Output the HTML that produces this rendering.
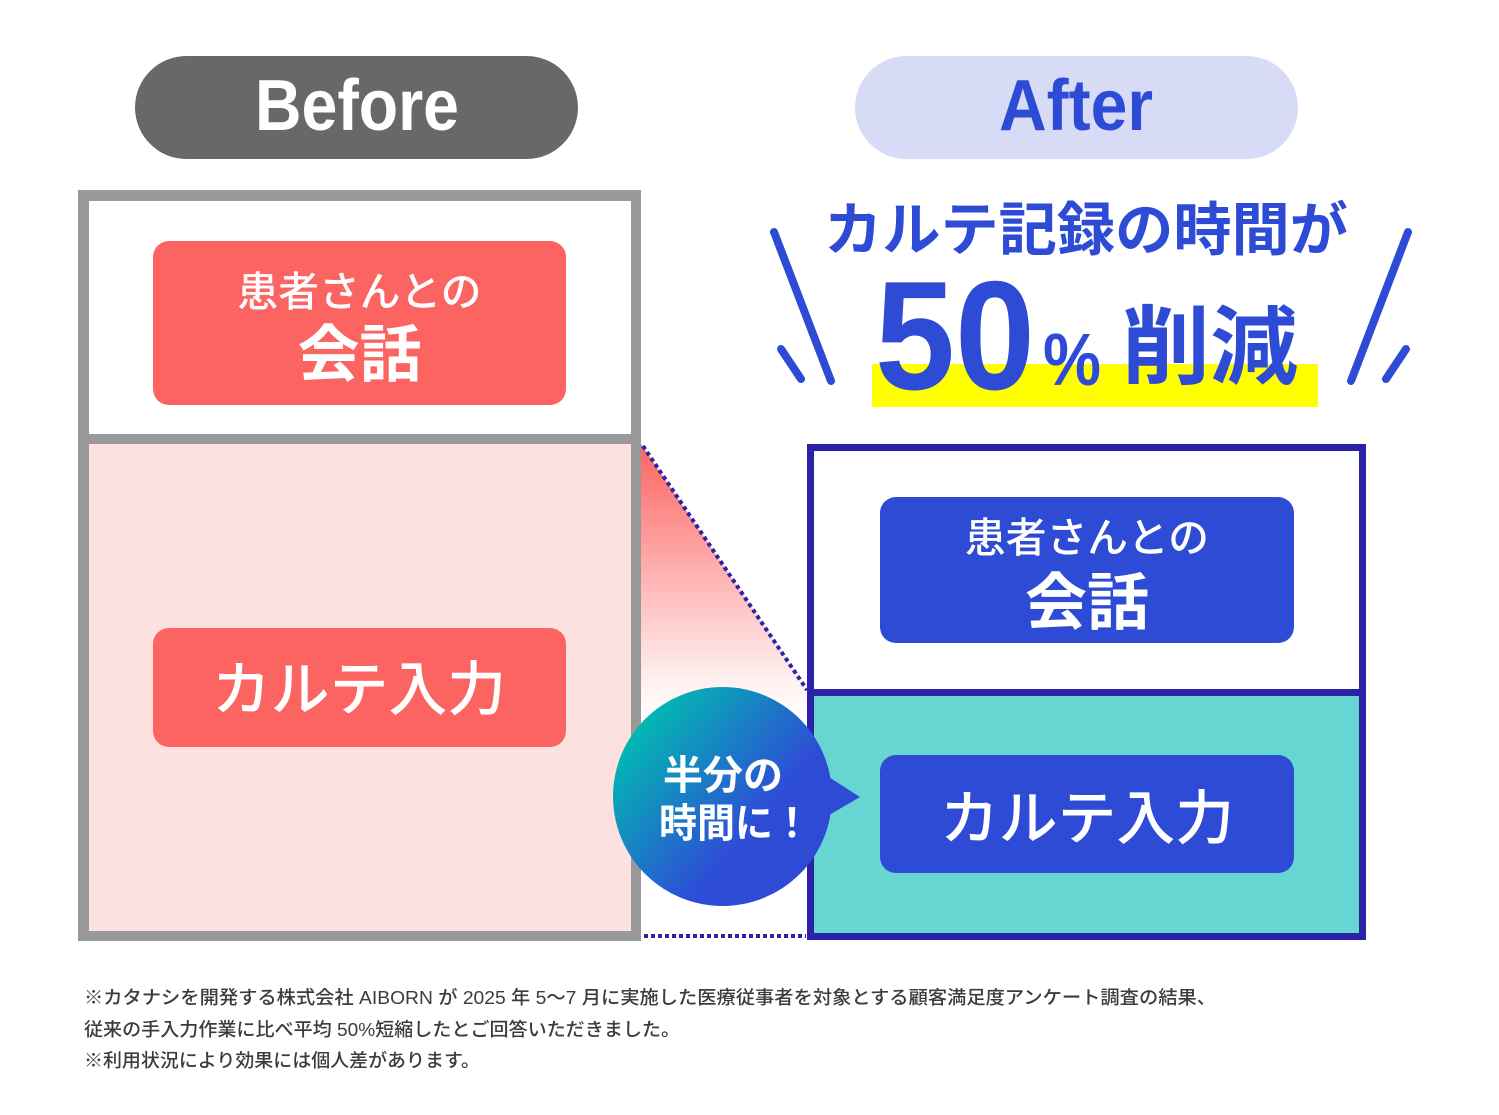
<!DOCTYPE html>
<html><head><meta charset="utf-8"><style>
html,body{margin:0;padding:0;background:#fff;}
svg{display:block;}
.jp{font-family:"Liberation Sans","Noto Sans CJK JP",sans-serif;}
</style></head><body>
<svg width="1499" height="1115" viewBox="0 0 1499 1115" xmlns="http://www.w3.org/2000/svg">
<defs>
<linearGradient id="redg" x1="0" y1="0" x2="0" y2="1">
<stop offset="0" stop-color="#fc6461" stop-opacity="1"/>
<stop offset="0.85" stop-color="#fc6461" stop-opacity="0.1"/>
<stop offset="1" stop-color="#fc6461" stop-opacity="0"/>
</linearGradient>
<linearGradient id="bub" x1="0.05" y1="0.2" x2="0.62" y2="0.68">
<stop offset="0" stop-color="#00bdb0"/>
<stop offset="1" stop-color="#2e4bd6"/>
</linearGradient>
</defs>

<!-- Badges -->
<rect x="135" y="56" width="443" height="103" rx="51.5" fill="#686868"/>
<text x="357" y="130" text-anchor="middle" font-family="Liberation Sans, sans-serif" font-size="72" font-weight="700" fill="#fff" textLength="204" lengthAdjust="spacingAndGlyphs">Before</text>
<rect x="855" y="56" width="443" height="103" rx="51.5" fill="#d7dbf6"/>
<text x="1076" y="130" text-anchor="middle" font-family="Liberation Sans, sans-serif" font-size="72" font-weight="700" fill="#2e4bd6" textLength="154" lengthAdjust="spacingAndGlyphs">After</text>

<!-- Before box -->
<rect x="78" y="190" width="563" height="751" fill="#999999"/>
<rect x="89" y="201" width="542" height="233" fill="#ffffff"/>
<rect x="89" y="444" width="542" height="487" fill="#fde1e1"/>
<rect x="153" y="241" width="413" height="164" rx="16" fill="#fc6461"/>
<text class="jp" x="359.5" y="306" text-anchor="middle" font-size="41" font-weight="500" fill="#fff" textLength="244" lengthAdjust="spacingAndGlyphs">患者さんとの</text>
<text class="jp" x="359.5" y="376" text-anchor="middle" font-size="62" font-weight="700" fill="#fff" textLength="124" lengthAdjust="spacingAndGlyphs">会話</text>
<rect x="153" y="628" width="413" height="119" rx="16" fill="#fc6461"/>
<text class="jp" x="359" y="710" text-anchor="middle" font-size="59" font-weight="500" fill="#fff" textLength="294" lengthAdjust="spacingAndGlyphs">カルテ入力</text>

<!-- Gradient connector -->
<polygon points="641,444 808,690 808,720 641,720" fill="url(#redg)"/>
<line x1="643" y1="446" x2="807" y2="690" stroke="#2b22a8" stroke-width="4" stroke-dasharray="4 3.3"/>
<line x1="644" y1="936" x2="806" y2="936" stroke="#2b22a8" stroke-width="4" stroke-dasharray="4 3"/>

<!-- After box -->
<rect x="807" y="444" width="559" height="496" fill="#2b22a8"/>
<rect x="814" y="451" width="545" height="238" fill="#ffffff"/>
<rect x="814" y="696" width="545" height="237" fill="#67d6d2"/>
<rect x="880" y="497" width="414" height="146" rx="16" fill="#2e4bd6"/>
<text class="jp" x="1087" y="552" text-anchor="middle" font-size="41" font-weight="500" fill="#fff" textLength="244" lengthAdjust="spacingAndGlyphs">患者さんとの</text>
<text class="jp" x="1087" y="624" text-anchor="middle" font-size="62" font-weight="700" fill="#fff" textLength="124" lengthAdjust="spacingAndGlyphs">会話</text>
<rect x="880" y="755" width="414" height="118" rx="16" fill="#2e4bd6"/>
<text class="jp" x="1087" y="839" text-anchor="middle" font-size="59" font-weight="500" fill="#fff" textLength="294" lengthAdjust="spacingAndGlyphs">カルテ入力</text>

<!-- Bubble -->
<polygon points="824,774 860,797 824,818" fill="#2e4bd6"/>
<circle cx="722.5" cy="796.5" r="109.5" fill="url(#bub)"/>
<text class="jp" x="723" y="789" text-anchor="middle" font-size="40" font-weight="700" fill="#fff" textLength="120" lengthAdjust="spacingAndGlyphs">半分の</text>
<text class="jp" x="735" y="837" text-anchor="middle" font-size="40" font-weight="700" fill="#fff" textLength="152" lengthAdjust="spacingAndGlyphs">時間に！</text>

<!-- Heading -->
<rect x="872" y="364" width="446" height="43" fill="#ffff00"/>
<text class="jp" x="824" y="250" font-size="58" font-weight="700" fill="#2e4bd6" textLength="524" lengthAdjust="spacingAndGlyphs">カルテ記録の時間が</text>
<text x="875" y="389" font-family="Liberation Sans, sans-serif" font-size="155" font-weight="700" fill="#2e4bd6" textLength="160" lengthAdjust="spacingAndGlyphs">50</text>
<text x="1043" y="385" font-family="Liberation Sans, sans-serif" font-size="74" font-weight="700" fill="#2e4bd6" textLength="58" lengthAdjust="spacingAndGlyphs">%</text>
<text class="jp" x="1122" y="377" font-size="86" font-weight="700" fill="#2e4bd6" textLength="176" lengthAdjust="spacingAndGlyphs">削減</text>

<!-- Slashes -->
<g stroke="#2e4bd6" stroke-width="8" stroke-linecap="round">
<line x1="774" y1="232" x2="831" y2="381"/>
<line x1="781" y1="349" x2="801" y2="379"/>
<line x1="1408" y1="232" x2="1351" y2="381"/>
<line x1="1406" y1="349" x2="1386" y2="379"/>
</g>

<!-- Footnotes -->
<g class="jp" font-size="18.5" font-weight="500" fill="#3c3c3c">
<text x="84" y="1004" textLength="1132" lengthAdjust="spacingAndGlyphs">※カタナシを開発する株式会社 AIBORN が 2025 年 5〜7 月に実施した医療従事者を対象とする顧客満足度アンケート調査の結果、</text>
<text x="84" y="1036" textLength="596" lengthAdjust="spacingAndGlyphs">従来の手入力作業に比べ平均 50%短縮したとご回答いただきました。</text>
<text x="84" y="1067" textLength="396" lengthAdjust="spacingAndGlyphs">※利用状況により効果には個人差があります。</text>
</g>
</svg>
</body></html>
